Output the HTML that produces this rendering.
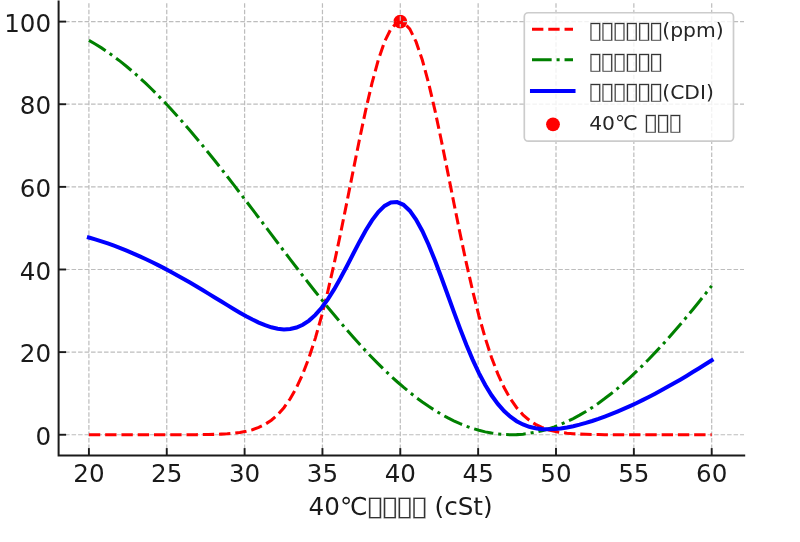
<!DOCTYPE html>
<html lang="zh"><head><meta charset="utf-8"><title>chart</title>
<style>
html,body{margin:0;padding:0;background:#fff;}
body{width:800px;height:542px;overflow:hidden;}
svg{display:block;}
text{font-family:"DejaVu Sans","Liberation Sans",sans-serif;fill:#1a1a1a;}
.tick{font-size:24.6px;}
.leg{font-size:20.3px;}
.tofu{fill:#333;}
.leg{fill:#262626;}
</style></head><body>
<svg width="800" height="542" viewBox="0 0 800 542">
<rect width="800" height="542" fill="#ffffff"/>

<circle cx="400.30" cy="21.60" r="6.9" fill="#ff0000"/>
<g stroke="#bdbdbd" stroke-width="1.22" stroke-dasharray="4.53 1.96" fill="none">
<line x1="88.90" y1="455.6" x2="88.90" y2="1.3"/>
<line x1="166.75" y1="455.6" x2="166.75" y2="1.3"/>
<line x1="244.60" y1="455.6" x2="244.60" y2="1.3"/>
<line x1="322.45" y1="455.6" x2="322.45" y2="1.3"/>
<line x1="400.30" y1="455.6" x2="400.30" y2="1.3"/>
<line x1="478.15" y1="455.6" x2="478.15" y2="1.3"/>
<line x1="556.00" y1="455.6" x2="556.00" y2="1.3"/>
<line x1="633.85" y1="455.6" x2="633.85" y2="1.3"/>
<line x1="711.70" y1="455.6" x2="711.70" y2="1.3"/>
<line x1="58.6" y1="434.75" x2="744.0" y2="434.75"/>
<line x1="58.6" y1="352.12" x2="744.0" y2="352.12"/>
<line x1="58.6" y1="269.49" x2="744.0" y2="269.49"/>
<line x1="58.6" y1="186.86" x2="744.0" y2="186.86"/>
<line x1="58.6" y1="104.23" x2="744.0" y2="104.23"/>
<line x1="58.6" y1="21.60" x2="744.0" y2="21.60"/>
</g>
<path d="M88.90,434.75 L95.19,434.75 L101.48,434.75 L107.77,434.75 L114.06,434.75 L120.35,434.75 L126.65,434.75 L132.94,434.75 L139.23,434.75 L145.52,434.75 L151.81,434.75 L158.10,434.75 L164.39,434.74 L170.68,434.74 L176.97,434.73 L183.26,434.72 L189.55,434.70 L195.85,434.66 L202.14,434.60 L208.43,434.50 L214.72,434.35 L221.01,434.11 L227.30,433.75 L233.59,433.22 L239.88,432.43 L246.17,431.30 L252.46,429.69 L258.75,427.45 L265.05,424.38 L271.34,420.25 L277.63,414.81 L283.92,407.75 L290.21,398.78 L296.50,387.58 L302.79,373.88 L309.08,357.44 L315.37,338.10 L321.66,315.85 L327.95,290.78 L334.25,263.18 L340.54,233.53 L346.83,202.48 L353.12,170.89 L359.41,139.73 L365.70,110.12 L371.99,83.18 L378.28,60.04 L384.57,41.68 L390.86,28.94 L397.15,22.42 L403.45,22.42 L409.74,28.94 L416.03,41.68 L422.32,60.04 L428.61,83.18 L434.90,110.12 L441.19,139.73 L447.48,170.89 L453.77,202.48 L460.06,233.53 L466.35,263.18 L472.65,290.78 L478.94,315.85 L485.23,338.10 L491.52,357.44 L497.81,373.88 L504.10,387.58 L510.39,398.78 L516.68,407.75 L522.97,414.81 L529.26,420.25 L535.55,424.38 L541.85,427.45 L548.14,429.69 L554.43,431.30 L560.72,432.43 L567.01,433.22 L573.30,433.75 L579.59,434.11 L585.88,434.35 L592.17,434.50 L598.46,434.60 L604.75,434.66 L611.05,434.70 L617.34,434.72 L623.63,434.73 L629.92,434.74 L636.21,434.74 L642.50,434.75 L648.79,434.75 L655.08,434.75 L661.37,434.75 L667.66,434.75 L673.95,434.75 L680.25,434.75 L686.54,434.75 L692.83,434.75 L699.12,434.75 L705.41,434.75 L711.70,434.75" fill="none" stroke="#ff0000" stroke-width="3.05" stroke-dasharray="11.36 4.91"/>
<path d="M88.90,40.34 L95.19,43.96 L101.48,47.89 L107.77,52.11 L114.06,56.62 L120.35,61.41 L126.65,66.47 L132.94,71.79 L139.23,77.37 L145.52,83.20 L151.81,89.26 L158.10,95.55 L164.39,102.05 L170.68,108.76 L176.97,115.67 L183.26,122.76 L189.55,130.02 L195.85,137.44 L202.14,145.01 L208.43,152.72 L214.72,160.55 L221.01,168.49 L227.30,176.53 L233.59,184.65 L239.88,192.84 L246.17,201.09 L252.46,209.38 L258.75,217.71 L265.05,226.05 L271.34,234.40 L277.63,242.73 L283.92,251.04 L290.21,259.32 L296.50,267.54 L302.79,275.70 L309.08,283.78 L315.37,291.77 L321.66,299.66 L327.95,307.43 L334.25,315.07 L340.54,322.57 L346.83,329.92 L353.12,337.09 L359.41,344.10 L365.70,350.91 L371.99,357.52 L378.28,363.92 L384.57,370.10 L390.86,376.05 L397.15,381.75 L403.45,387.21 L409.74,392.40 L416.03,397.33 L422.32,401.98 L428.61,406.35 L434.90,410.43 L441.19,414.21 L447.48,417.68 L453.77,420.85 L460.06,423.70 L466.35,426.23 L472.65,428.44 L478.94,430.33 L485.23,431.88 L491.52,433.10 L497.81,433.98 L504.10,434.53 L510.39,434.75 L516.68,434.62 L522.97,434.16 L529.26,433.36 L535.55,432.23 L541.85,430.77 L548.14,428.97 L554.43,426.85 L560.72,424.40 L567.01,421.63 L573.30,418.55 L579.59,415.15 L585.88,411.45 L592.17,407.45 L598.46,403.16 L604.75,398.58 L611.05,393.73 L617.34,388.60 L623.63,383.21 L629.92,377.57 L636.21,371.69 L642.50,365.57 L648.79,359.23 L655.08,352.67 L661.37,345.91 L667.66,338.96 L673.95,331.82 L680.25,324.52 L686.54,317.06 L692.83,309.46 L699.12,301.72 L705.41,293.86 L711.70,285.90" fill="none" stroke="#008000" stroke-width="3.05" stroke-dasharray="19.65 4.91 3.07 4.91"/>
<path d="M88.90,237.54 L95.19,239.36 L101.48,241.32 L107.77,243.43 L114.06,245.68 L120.35,248.08 L126.65,250.61 L132.94,253.27 L139.23,256.06 L145.52,258.97 L151.81,262.00 L158.10,265.15 L164.39,268.40 L170.68,271.75 L176.97,275.20 L183.26,278.74 L189.55,282.36 L195.85,286.05 L202.14,289.81 L208.43,293.61 L214.72,297.45 L221.01,301.30 L227.30,305.14 L233.59,308.93 L239.88,312.64 L246.17,316.19 L252.46,319.54 L258.75,322.58 L265.05,325.21 L271.34,327.32 L277.63,328.77 L283.92,329.40 L290.21,329.05 L296.50,327.56 L302.79,324.79 L309.08,320.61 L315.37,314.94 L321.66,307.75 L327.95,299.10 L334.25,289.13 L340.54,278.05 L346.83,266.20 L353.12,253.99 L359.41,241.91 L365.70,230.51 L371.99,220.35 L378.28,211.98 L384.57,205.89 L390.86,202.49 L397.15,202.09 L403.45,204.81 L409.74,210.67 L416.03,219.50 L422.32,231.01 L428.61,244.77 L434.90,260.27 L441.19,276.97 L447.48,294.28 L453.77,311.66 L460.06,328.61 L466.35,344.71 L472.65,359.61 L478.94,373.09 L485.23,384.99 L491.52,395.27 L497.81,403.93 L504.10,411.06 L510.39,416.76 L516.68,421.19 L522.97,424.49 L529.26,426.81 L535.55,428.30 L541.85,429.11 L548.14,429.33 L554.43,429.07 L560.72,428.42 L567.01,427.42 L573.30,426.15 L579.59,424.63 L585.88,422.90 L592.17,420.98 L598.46,418.88 L604.75,416.62 L611.05,414.21 L617.34,411.66 L623.63,408.97 L629.92,406.16 L636.21,403.22 L642.50,400.16 L648.79,396.99 L655.08,393.71 L661.37,390.33 L667.66,386.85 L673.95,383.29 L680.25,379.63 L686.54,375.90 L692.83,372.10 L699.12,368.23 L705.41,364.30 L711.70,360.32" fill="none" stroke="#0000ff" stroke-width="4.05" stroke-linecap="square"/>
<g stroke="#1a1a1a" stroke-width="1.9">
<line x1="88.90" y1="455.6" x2="88.90" y2="448.1"/>
<line x1="166.75" y1="455.6" x2="166.75" y2="448.1"/>
<line x1="244.60" y1="455.6" x2="244.60" y2="448.1"/>
<line x1="322.45" y1="455.6" x2="322.45" y2="448.1"/>
<line x1="400.30" y1="455.6" x2="400.30" y2="448.1"/>
<line x1="478.15" y1="455.6" x2="478.15" y2="448.1"/>
<line x1="556.00" y1="455.6" x2="556.00" y2="448.1"/>
<line x1="633.85" y1="455.6" x2="633.85" y2="448.1"/>
<line x1="711.70" y1="455.6" x2="711.70" y2="448.1"/>
<line x1="58.6" y1="434.75" x2="66.1" y2="434.75"/>
<line x1="58.6" y1="352.12" x2="66.1" y2="352.12"/>
<line x1="58.6" y1="269.49" x2="66.1" y2="269.49"/>
<line x1="58.6" y1="186.86" x2="66.1" y2="186.86"/>
<line x1="58.6" y1="104.23" x2="66.1" y2="104.23"/>
<line x1="58.6" y1="21.60" x2="66.1" y2="21.60"/>
</g>
<path d="M58.6,0.4 L58.6,455.6 L745.2,455.6" fill="none" stroke="#1a1a1a" stroke-width="2.0" stroke-linejoin="miter"/>
<text class="tick" x="88.90" y="482" text-anchor="middle">20</text>
<text class="tick" x="166.75" y="482" text-anchor="middle">25</text>
<text class="tick" x="244.60" y="482" text-anchor="middle">30</text>
<text class="tick" x="322.45" y="482" text-anchor="middle">35</text>
<text class="tick" x="400.30" y="482" text-anchor="middle">40</text>
<text class="tick" x="478.15" y="482" text-anchor="middle">45</text>
<text class="tick" x="556.00" y="482" text-anchor="middle">50</text>
<text class="tick" x="633.85" y="482" text-anchor="middle">55</text>
<text class="tick" x="711.70" y="482" text-anchor="middle">60</text>
<text class="tick" x="51.1" y="444.85" text-anchor="end">0</text>
<text class="tick" x="51.1" y="362.22" text-anchor="end">20</text>
<text class="tick" x="51.1" y="279.59" text-anchor="end">40</text>
<text class="tick" x="51.1" y="196.96" text-anchor="end">60</text>
<text class="tick" x="51.1" y="114.33" text-anchor="end">80</text>
<text class="tick" x="51.1" y="31.70" text-anchor="end">100</text>
<text class="tick" x="308.6" y="515.1">40℃</text>
<text class="tofu" transform="translate(365.67,515.18) scale(1.2448,1)" style="font-size:27.24px;letter-spacing:-3.130px" stroke="#ffffff" stroke-width="0.2">▯▯▯▯</text>
<text class="tick" x="434.6" y="515.2">(cSt)</text>
<rect x="524.3" y="12.75" width="209.2" height="128.45" rx="4" ry="4" fill="#ffffff" fill-opacity="0.8" stroke="#cccccc" stroke-width="1.7"/>
<line x1="532" y1="29.2" x2="573" y2="29.2" stroke="#ff0000" stroke-width="3.07" stroke-dasharray="11.36 4.91"/>
<line x1="532" y1="59.8" x2="573" y2="59.8" stroke="#008000" stroke-width="3.07" stroke-dasharray="19.65 4.91 3.07 4.91"/>
<line x1="532" y1="91" x2="573.5" y2="91" stroke="#0000ff" stroke-width="4.05" stroke-linecap="square"/>
<circle cx="553" cy="124.3" r="6.9" fill="#ff0000"/>
<text class="tofu" transform="translate(587.69,37.71) scale(1.1673,1)" style="font-size:23.70px;letter-spacing:-2.608px" stroke="#ffffff" stroke-width="0.2">▯▯▯▯▯▯</text>
<text class="tofu" transform="translate(587.69,68.51) scale(1.1673,1)" style="font-size:23.70px;letter-spacing:-2.608px" stroke="#ffffff" stroke-width="0.2">▯▯▯▯▯▯</text>
<text class="tofu" transform="translate(587.69,99.11) scale(1.1673,1)" style="font-size:23.70px;letter-spacing:-2.608px" stroke="#ffffff" stroke-width="0.2">▯▯▯▯▯▯</text>
<text class="leg" x="662.3" y="37.4">(ppm)</text>
<text class="leg" x="662.3" y="98.8">(CDI)</text>
<text class="leg" x="589.2" y="129.5">40℃</text>
<text class="tofu" transform="translate(643.29,129.51) scale(1.1673,1)" style="font-size:23.70px;letter-spacing:-2.608px" stroke="#ffffff" stroke-width="0.2">▯▯▯</text>
</svg></body></html>
